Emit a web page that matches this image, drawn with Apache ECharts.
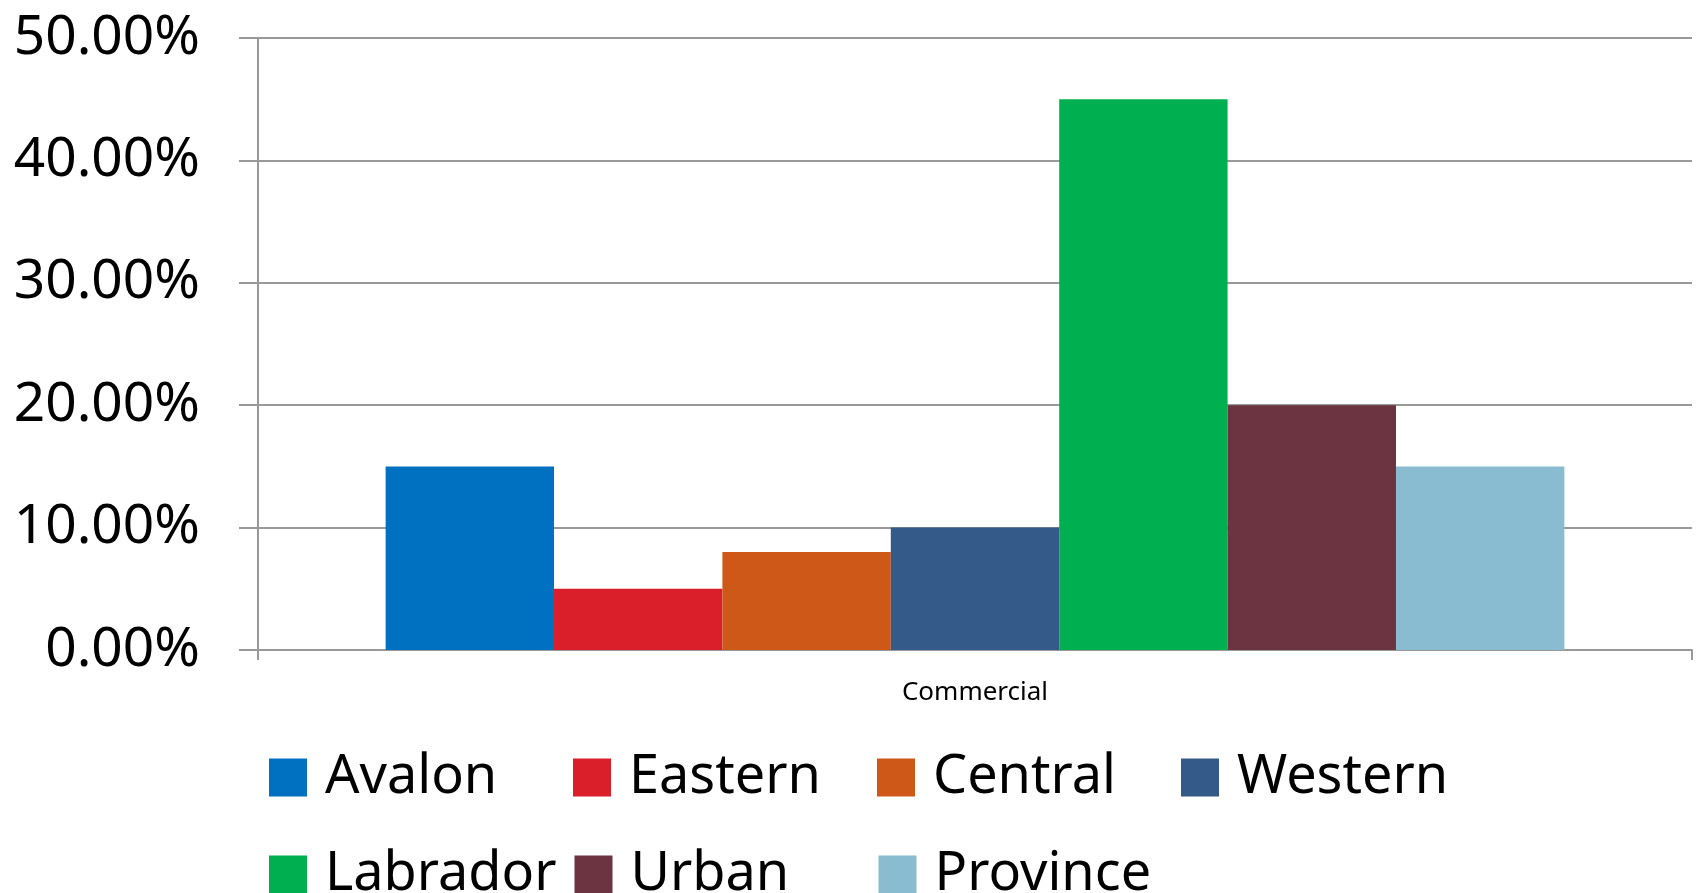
<!DOCTYPE html>
<html>
<head>
<meta charset="utf-8">
<style>
  html, body { margin: 0; padding: 0; background: #fff; }
  #chart { width: 1696px; height: 893px; }
</style>
<script src="https://cdn.jsdelivr.net/npm/echarts@6/dist/echarts.min.js"></script>
</head>
<body>
<div id="chart"></div>
<script>
// data
var categories = ['Commercial']
var regions = ['Avalon', 'Eastern', 'Central', 'Western', 'Labrador', 'Urban', 'Province']
var shares = [15, 5, 8, 10, 45, 20, 15] // percent
var colors = ['#0070C0', '#DA1F2B', '#CD5817', '#345A8A', '#00B050', '#6C3340', '#8ABCD1']
var yTicks = { min: 0, max: 50, interval: 10 }

var font = 'Noto Sans'
var chart = echarts.init(document.getElementById('chart'))

var series = regions.map(function (name, i) {
  return {
    name: name,
    type: 'bar',
    barGap: '0%',
    barCategoryGap: '17.8%',
    itemStyle: { color: colors[i] },
    data: [shares[i]]
  }
})

chart.setOption({
  backgroundColor: '#fff',
  animation: false,
  grid: { left: 258, right: 4, top: 38, bottom: 243 },
  legend: {
    left: 264,
    top: 733,
    width: 1240,
    itemWidth: 38,
    itemHeight: 38,
    itemGap: 18,
    icon: 'rect',
    textStyle: {
      fontFamily: font,
      fontSize: 54,
      color: '#000',
      width: 230,
      lineHeight: 79,
      padding: [0, 0, 0, 13]
    },
    data: regions
  },
  xAxis: {
    type: 'category',
    data: categories,
    axisLine: { lineStyle: { color: '#999', width: 2 } },
    axisTick: { show: true, length: 10, lineStyle: { color: '#999', width: 2 } },
    axisLabel: { fontFamily: font, fontSize: 26, color: '#000', margin: 30 }
  },
  yAxis: {
    type: 'value',
    min: yTicks.min,
    max: yTicks.max,
    interval: yTicks.interval,
    axisLine: { show: true, lineStyle: { color: '#999', width: 2 } },
    axisTick: { show: true, length: 19, lineStyle: { color: '#999', width: 2 } },
    splitLine: { lineStyle: { color: '#999', width: 2 } },
    axisLabel: {
      fontFamily: font,
      fontSize: 55,
      color: '#000',
      margin: 58,
      padding: [0, 0, 16, 0],
      formatter: function (v) { return v.toFixed(2) + '%' }
    }
  },
  series: series
})
</script>
</body>
</html>
